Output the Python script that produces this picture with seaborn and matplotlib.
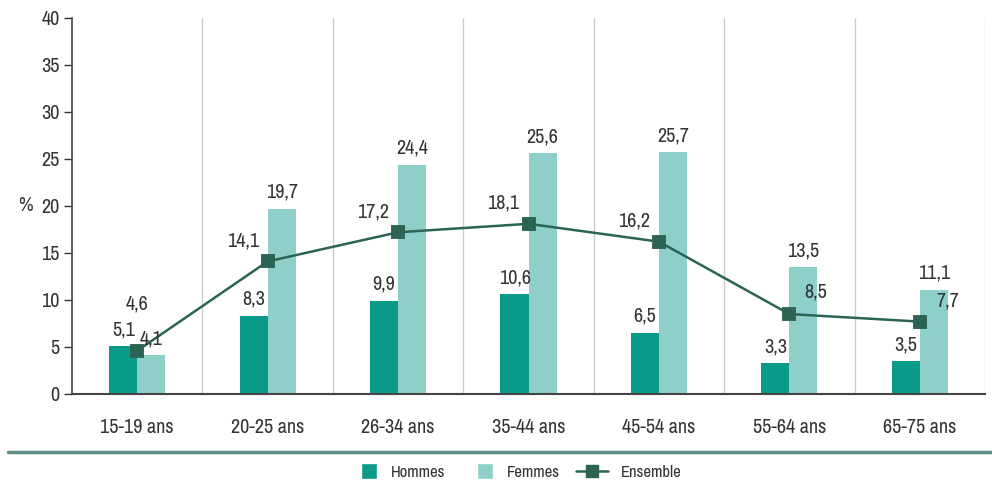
import matplotlib
matplotlib.use("Agg")
import matplotlib.pyplot as plt
from matplotlib.lines import Line2D
from matplotlib.patches import Patch, Rectangle
from matplotlib.legend_handler import HandlerPatch
import pandas as pd
import seaborn as sns

# Data
age_groups = ["15-19 ans", "20-25 ans", "26-34 ans", "35-44 ans", "45-54 ans", "55-64 ans", "65-75 ans"]
hommes = [5.1, 8.3, 9.9, 10.6, 6.5, 3.3, 3.5]
femmes = [4.1, 19.7, 24.4, 25.6, 25.7, 13.5, 11.1]
ensemble = [4.6, 14.1, 17.2, 18.1, 16.2, 8.5, 7.7]

c_h = "#0a9a8a"
c_f = "#8ecfca"
c_e = "#2b6454"
txt = "#333333"
fs = 14.5

sns.set_theme(style="white")
plt.rcParams["font.family"] = ["Archivo Narrow", "DejaVu Sans"]
plt.rcParams["text.color"] = txt

bars = pd.DataFrame({
    "age": age_groups * 2,
    "value": hommes + femmes,
    "sexe": ["Hommes"] * len(age_groups) + ["Femmes"] * len(age_groups),
})
line = pd.DataFrame({"age": age_groups, "value": ensemble})

fig = plt.figure(figsize=(9.92, 4.84), dpi=100)
ax = fig.add_axes([0.0726, 0.186, 0.9204, 0.777])

sns.barplot(data=bars, x="age", y="value", hue="sexe", order=age_groups,
            palette={"Hommes": c_h, "Femmes": c_f}, width=0.43, ax=ax,
            legend=False, saturation=1, linewidth=0)
sns.pointplot(data=line, x="age", y="value", order=age_groups, color=c_e,
              markers="s", markersize=8.5, linewidth=1.8, ax=ax)

# value labels
for cont, vals in zip(ax.containers[:2], [hommes, femmes]):
    for rect, v in zip(cont, vals):
        ax.annotate(f"{v:.1f}".replace(".", ","),
                    (rect.get_x() + rect.get_width() / 2, v),
                    xytext=(0, 5), textcoords="offset points",
                    ha="center", va="bottom", fontsize=fs, color=txt)
offsets = [(0, 27), (-18, 8), (-18, 8), (-18, 8), (-18, 8), (19, 9), (20, 8)]
for i, (v, off) in enumerate(zip(ensemble, offsets)):
    ax.annotate(f"{v:.1f}".replace(".", ","), (i, v), xytext=off,
                textcoords="offset points", ha="center", va="bottom",
                fontsize=fs, color=txt)

ax.set_ylim(0, 40)
ax.set_xlim(-0.5, 6.5)
ax.set_yticks(range(0, 41, 5))
ax.set_xticks(range(len(age_groups)))
ax.set_xticks([i + 0.5 for i in range(len(age_groups))], minor=True)
ax.grid(False)
ax.grid(True, axis="x", which="minor", color="#cccccc", linewidth=1)
ax.tick_params(axis="y", which="major", left=True, length=6, width=1,
               color=txt, labelsize=fs, labelcolor=txt, pad=3)
ax.tick_params(axis="x", which="both", bottom=False, labelsize=fs,
               labelcolor=txt, pad=11)
ax.set_xlabel("")
ax.set_ylabel("")
for side in ["top", "right"]:
    ax.spines[side].set_visible(False)
ax.spines["left"].set_color("#444444")
ax.spines["bottom"].set_color("#444444")
ax.spines["left"].set_linewidth(1.2)
ax.spines["bottom"].set_linewidth(1.5)

ax.text(-0.043, 20, "%", transform=ax.get_yaxis_transform(), ha="right",
        va="center", fontsize=fs, color=txt)

# separator line above legend
fig.add_artist(Line2D([0.008, 1.0], [1 - 452 / 484] * 2, color="#5e8f86",
                      linewidth=2.5, transform=fig.transFigure))


def square(legend, orig_handle, xdescent, ydescent, width, height, fontsize):
    s = 11.5
    return Rectangle((-xdescent + width - s, -ydescent + (height - s) / 2), s, s)


handles = [
    Patch(facecolor=c_h, label="Hommes"),
    Patch(facecolor=c_f, label="Femmes"),
    Line2D([0], [0], color=c_e, marker="s", markersize=8.5, linewidth=1.8, label="Ensemble"),
]
fig.legend(handles=handles, loc="center", bbox_to_anchor=(0.518, 1 - 472 / 484),
           ncol=3, frameon=False, fontsize=12, handlelength=1.9,
           handleheight=0.9, columnspacing=1.0, handletextpad=0.8,
           handler_map={Patch: HandlerPatch(patch_func=square)})

fig.savefig("out.png", dpi=100)
